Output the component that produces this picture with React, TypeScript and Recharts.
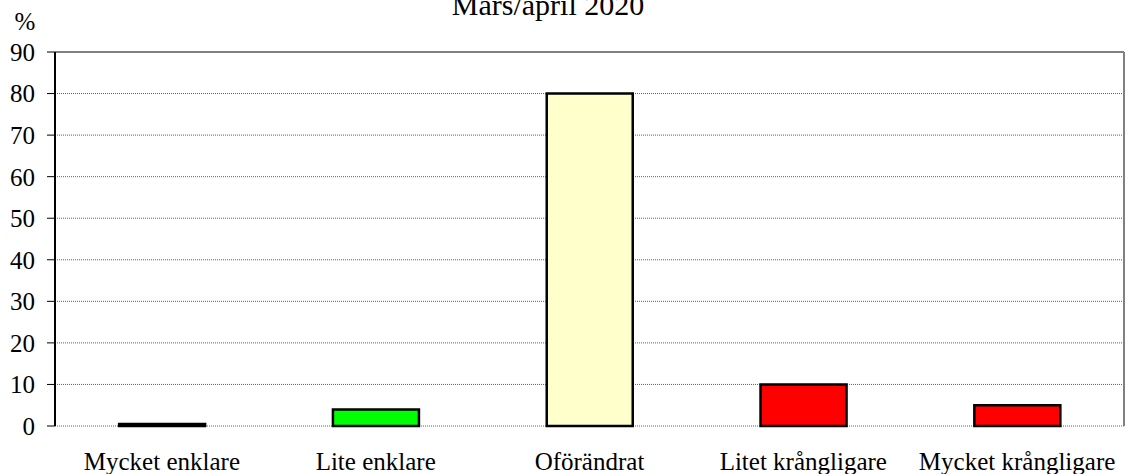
import { BarChart, Bar, Cell, XAxis, YAxis, CartesianGrid, ReferenceLine } from 'recharts';

const categories = ['Mycket enklare', 'Lite enklare', 'Oförändrat', 'Litet krångligare', 'Mycket krångligare'];
const values = [0.5, 4, 80, 10, 5];
const barColors = ['#000080', '#00FF00', '#FFFFCC', '#FF0000', '#FF0000'];
const yTicks = [0, 10, 20, 30, 40, 50, 60, 70, 80, 90];
const edgeTicks = [0, 1, 2, 3, 4, 5];

const data = categories.map((name, i) => ({ name, value: values[i], pos: i + 0.5 }));

const font = '"Liberation Serif", "Times New Roman", serif';

export default function App() {
  return (
    <div style={{ position: 'absolute', left: 0, top: 0, width: 1126, height: 474, fontFamily: font, background: '#fff' }}>
      <BarChart
        width={1126}
        height={474}
        data={data}
        margin={{ top: 52, right: 2, left: 0, bottom: 0 }}
        barCategoryGap="30%"
      >
        <CartesianGrid vertical={false} stroke="#606060" strokeDasharray="1 1" xAxisId="edges" />
        <XAxis
          xAxisId="edges"
          type="number"
          dataKey="pos"
          domain={[0, 5]}
          ticks={edgeTicks}
          height={0}
          tickSize={7}
          tickFormatter={() => ''}
          axisLine={{ stroke: '#000', strokeWidth: 1.5 }}
          tickLine={{ stroke: '#000' }}
        />
        <XAxis
          xAxisId="cat"
          dataKey="name"
          height={48}
          axisLine={false}
          tickLine={false}
          tickSize={0}
          tickMargin={26}
          interval={0}
          tick={{ fill: '#000', fontSize: 25, fontFamily: font }}
        />
        <YAxis
          width={55}
          domain={[0, 90]}
          ticks={yTicks}
          tickSize={8}
          tickMargin={12}
          axisLine={{ stroke: '#000', strokeWidth: 2 }}
          tickLine={{ stroke: '#000' }}
          tick={{ fill: '#000', fontSize: 25, fontFamily: font }}
        />
        <ReferenceLine y={90} xAxisId="edges" stroke="#808080" strokeWidth={2} />
        <ReferenceLine x={5} xAxisId="edges" stroke="#808080" strokeWidth={2} />
        <Bar dataKey="value" xAxisId="cat" stroke="#000" strokeWidth={2.5} isAnimationActive={false}>
          {data.map((_, i) => (
            <Cell key={`cell-${i}`} fill={barColors[i]} />
          ))}
        </Bar>
      </BarChart>
      <svg width={1126} height={474} style={{ position: 'absolute', left: 0, top: 0, pointerEvents: 'none' }}>
        <text x={548} y={15} textAnchor="middle" fontSize={30} fontFamily={font} fill="#000">
          Mars/april 2020
        </text>
        <text x={25} y={30} textAnchor="middle" fontSize={25} fontFamily={font} fill="#000">
          %
        </text>
      </svg>
    </div>
  );
}
